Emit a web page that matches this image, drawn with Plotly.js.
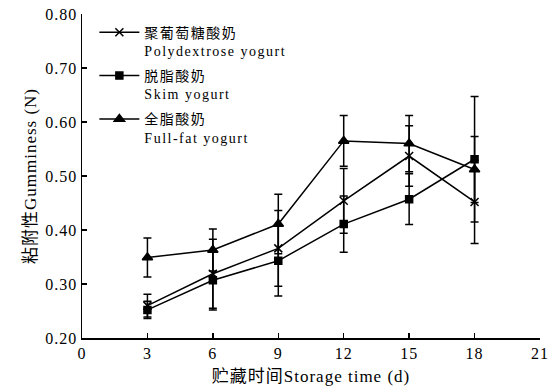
<!DOCTYPE html>
<html>
<head>
<meta charset="utf-8">
<script src="https://cdn.plot.ly/plotly-3.0.1.min.js"></script>
<style>
html,body{margin:0;padding:0;background:#fff;}
#chart{width:549px;height:390px;}
#chart .legendtext{letter-spacing:1.5px;}
#chart .legend .scrollbox{clip-path:none !important;}
#chart .xtick text,#chart .ytick text{letter-spacing:1px;}
#chart .xtitle,#chart .ytitle{letter-spacing:1px;}
</style>
</head>
<body>
<div id="chart"></div>
<script>
const days = [3, 6, 9, 12, 15, 18];
const seriesCn = ['聚葡萄糖酸奶', '脱脂酸奶', '全脂酸奶'];
const seriesEn = ['Polydextrose yogurt', 'Skim yogurt', 'Full-fat yogurt'];
const polyValues = [0.260, 0.319, 0.366, 0.454, 0.537, 0.452];
const polyErrors = [0.021, 0.064, 0.070, 0.060, 0.056, 0.077];
const skimValues = [0.252, 0.307, 0.343, 0.411, 0.457, 0.531];
const skimErrors = [0.016, 0.055, 0.065, 0.052, 0.047, 0.116];
const fullValues = [0.349, 0.363, 0.411, 0.565, 0.560, 0.512];
const fullErrors = [0.036, 0.039, 0.055, 0.047, 0.052, 0.061];
const xTicks = [0, 3, 6, 9, 12, 15, 18, 21];
const yTicks = [0.20, 0.30, 0.40, 0.50, 0.60, 0.70, 0.80];

const FONT = 'Liberation Serif, "Times New Roman", "Noto Sans CJK SC", serif';
const symbols = ['x-thin-open', 'square', 'triangle-up'];
const sizes = [8, 7, 9];
const vals = [polyValues, skimValues, fullValues];
const errs = [polyErrors, skimErrors, fullErrors];

const traces = vals.map((v, i) => ({
  x: days, y: v, type: 'scatter', mode: 'lines+markers',
  name: seriesCn[i] + '<br>' + seriesEn[i],
  legendgroup: 'g' + i,
  line: {color: '#000', width: 1.5},
  marker: {symbol: symbols[i], size: sizes[i], color: '#000', line: {color: '#000', width: 1.5}},
  error_y: {type: 'data', array: errs[i], visible: true, color: '#000', thickness: 1.5, width: 4}
}));

const layout = {
  width: 549, height: 390,
  margin: {l: 82, r: 9, t: 14, b: 52},
  paper_bgcolor: '#fff', plot_bgcolor: '#fff',
  font: {family: FONT, color: '#000', size: 14},
  showlegend: true,
  legend: {x: 0.027, y: 0.992, xanchor: 'left', yanchor: 'top', bgcolor: 'rgba(0,0,0,0)',
           valign: 'top', font: {family: FONT, size: 14, color: '#000'}, tracegroupgap: 4, itemwidth: 40},
  xaxis: {
    range: [0, 21], tickvals: xTicks, ticktext: xTicks.map(String),
    showgrid: false, zeroline: false, showline: true, linecolor: '#000', linewidth: 1.5,
    ticks: 'inside', ticklen: 5, tickwidth: 1.5, tickcolor: '#000',
    tickfont: {family: FONT, size: 16, color: '#000'},
    title: {text: '贮藏时间Storage time (d)', font: {family: FONT, size: 17, color: '#000'}, standoff: 9}
  },
  yaxis: {
    range: [0.20, 0.80], tickvals: yTicks, ticktext: yTicks.map(v => v.toFixed(2)),
    showgrid: false, zeroline: false, showline: true, linecolor: '#000', linewidth: 1.5,
    ticks: 'inside', ticklen: 5, tickwidth: 1.5, tickcolor: '#000',
    tickfont: {family: FONT, size: 16, color: '#000'},
    title: {text: '粘附性Gumminess (N)', font: {family: FONT, size: 17, color: '#000'}, standoff: 8}
  }
};

Plotly.newPlot('chart', traces, layout, {displayModeBar: false, staticPlot: true});
</script>
</body>
</html>
